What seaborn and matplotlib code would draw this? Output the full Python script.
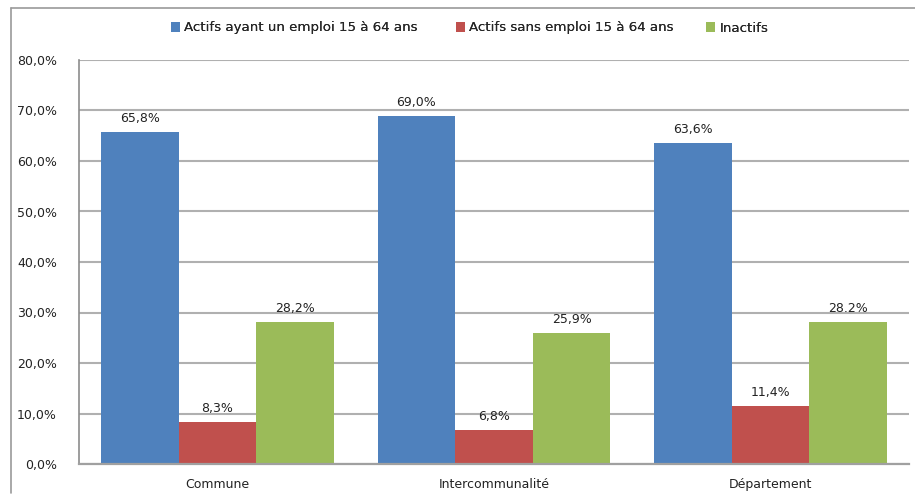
import matplotlib
matplotlib.use("Agg")
import matplotlib.pyplot as plt
from matplotlib.lines import Line2D
from matplotlib.patches import Patch
import seaborn as sns
import pandas as pd

# Data
categories = ["Commune", "Intercommunalité", "Département"]
series_names = [
    "Actifs ayant un emploi 15 à 64 ans",
    "Actifs sans emploi 15 à 64 ans",
    "Inactifs",
]
emploi = [65.8, 69.0, 63.6]
sans_emploi = [8.3, 6.8, 11.4]
inactifs = [28.2, 25.9, 28.2]
# decimal separator used in each value label (per series, per category)
label_separators = [[",", ",", ","], [",", ",", ","], [",", ",", "."]]
y_ticks = [0, 10, 20, 30, 40, 50, 60, 70, 80]

colors = ["#4F81BD", "#C0504D", "#9BBB59"]

rows = []
for name, vals in zip(series_names, [emploi, sans_emploi, inactifs]):
    for cat, v in zip(categories, vals):
        rows.append({"categorie": cat, "serie": name, "valeur": v})
df = pd.DataFrame(rows)

sns.set_style("white")
plt.rcParams["font.family"] = ["DejaVu Sans"]

fig = plt.figure(figsize=(9.15, 4.95), dpi=100)
ax = fig.add_axes([79 / 915, 1 - 464 / 495, (909 - 79) / 915, (464 - 60) / 495])

sns.barplot(
    data=df, x="categorie", y="valeur", hue="serie",
    order=categories, hue_order=series_names, palette=colors,
    width=0.842, saturation=1, errorbar=None, legend=False, ax=ax,
    linewidth=0,
)

ax.set_ylim(0, 80)
ax.set_xlim(-0.5, 2.5)
ax.set_yticks(y_ticks)
ax.set_yticklabels([f"{t:.1f}".replace(".", ",") + "%" for t in y_ticks],
                   fontsize=9, color="#222222")
ax.yaxis.grid(True, color="#b0b0b0", linewidth=1.5)
ax.set_axisbelow(True)

# category boundaries carry the x ticks; names sit centred below each group
ax.set_xticks([-0.5, 0.5, 1.5, 2.5])
ax.set_xticklabels([])
ax.set_xticks(range(len(categories)), minor=True)
ax.set_xticklabels(categories, minor=True, fontsize=9, color="#222222")
ax.tick_params(axis="x", which="minor", length=0, pad=10)
ax.tick_params(axis="x", which="major", length=5, width=1.2, color="#8c8c8c")
ax.tick_params(axis="y", length=6, width=1.2, color="#8c8c8c", pad=10)
ax.set_xlabel("")
ax.set_ylabel("")

for side in ["top", "right"]:
    ax.spines[side].set_visible(False)
ax.spines["left"].set_color("#8c8c8c")
ax.spines["left"].set_linewidth(1.2)
ax.spines["bottom"].set_color("#a0a0a0")
ax.spines["bottom"].set_linewidth(1.6)

# value labels above bars
for container, seps, vals in zip(ax.containers, label_separators,
                                 [emploi, sans_emploi, inactifs]):
    for bar, sep, v in zip(container, seps, vals):
        txt = f"{v:.1f}".replace(".", sep) + "%"
        ax.annotate(txt, (bar.get_x() + bar.get_width() / 2, v),
                    xytext=(0, 5), textcoords="offset points",
                    ha="center", va="bottom", fontsize=9, color="#222222")

# legend entries across the top, each anchored at its own left edge
legend_left_px = [171, 456, 706]
for name, color, left in zip(series_names, colors, legend_left_px):
    leg = fig.legend([Patch(facecolor=color, edgecolor="none")], [name],
                     loc="center left", bbox_to_anchor=(left / 915, 1 - 28 / 495),
                     frameon=False, fontsize=9.6, handlelength=0.7, handleheight=0.7,
                     handletextpad=0.3, borderpad=0, borderaxespad=0)
    fig.add_artist(leg)

# outer chart frame
fig.add_artist(Line2D([10.5 / 915, 10.5 / 915], [1 - 493 / 495, 1 - 8 / 495],
                      transform=fig.transFigure, color="#9a9a9a", linewidth=1.2))
fig.add_artist(Line2D([10.5 / 915, 1.0], [1 - 8 / 495, 1 - 8 / 495],
                      transform=fig.transFigure, color="#9a9a9a", linewidth=1.2))

fig.savefig("out.png", dpi=100)
